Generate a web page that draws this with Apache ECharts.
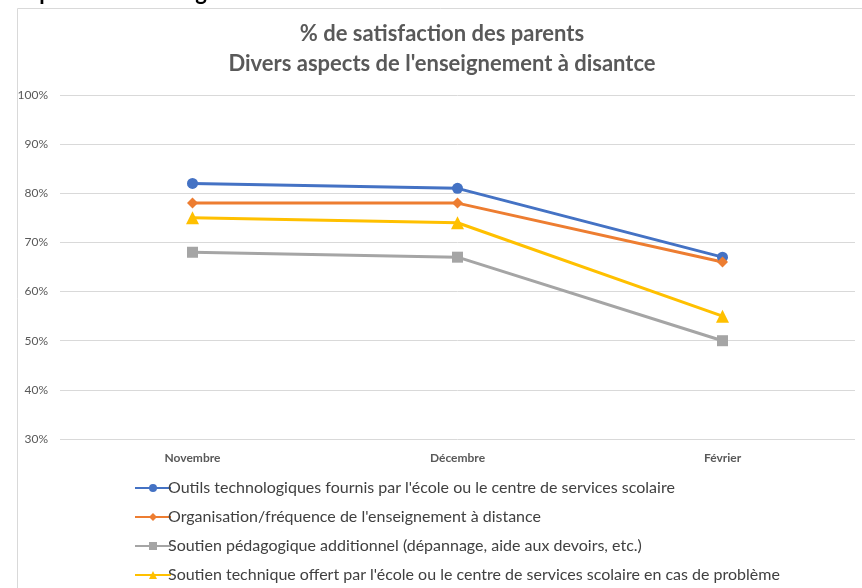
<!DOCTYPE html>
<html><head><meta charset="utf-8">
<script src="https://cdn.jsdelivr.net/npm/echarts@6/dist/echarts.min.js"></script>
<style>html,body{margin:0;padding:0;background:#fff}#c{width:862px;height:588px}</style>
</head><body><div id="c"></div>
<script>
const categories = ['Novembre', 'Décembre', 'Février'];
const outils = [82, 81, 67];
const organisation = [78, 78, 66];
const pedagogique = [68, 67, 50];
const technique = [75, 74, 55];
const seriesNames = [
  "Outils technologiques fournis par l'école ou le centre de services scolaire",
  "Organisation/fréquence de l'enseignement à distance",
  "Soutien pédagogique additionnel (dépannage, aide aux devoirs, etc.)",
  "Soutien technique offert par l'école ou le centre de services scolaire en cas de problème"
];
const colors = ['#4472C4', '#ED7D31', '#A5A5A5', '#FFC000'];
const symbols = ['circle', 'diamond', 'rect', 'triangle'];
const values = [outils, organisation, pedagogique, technique];
const font = 'Lato, "Open Sans", sans-serif';

const chart = echarts.init(document.getElementById('c'));
chart.setOption({
  animation: false,
  color: colors,
  title: {
    text: '% de satisfaction des parents\nDivers aspects de l\'enseignement à disantce',
    left: 437, textAlign: 'center', top: 14,
    textStyle: { fontFamily: font, fontSize: 22, fontWeight: 'bold', color: '#595959', lineHeight: 30 }
  },
  graphic: [
    { type: 'rect', shape: { x: 17.5, y: 8.5, width: 900, height: 700 }, style: { fill: 'none', stroke: '#d9d9d9', lineWidth: 1 }, z: -1 },
    { type: 'text', x: 0, y: -18, style: { text: "des parents à l'enseignement à distance", font: 'bold 22px ' + font, fill: '#000' } }
  ],
  grid: { left: 60, right: 7, top: 95, bottom: 149 },
  xAxis: {
    type: 'category', data: categories, boundaryGap: true,
    axisLine: { show: false }, axisTick: { show: false },
    axisLabel: { margin: 13, fontFamily: font, fontSize: 12, fontWeight: 'bold', color: '#595959' }
  },
  yAxis: {
    type: 'value', min: 30, max: 100, interval: 10,
    axisLine: { show: false }, axisTick: { show: false },
    axisLabel: { formatter: '{value}%', margin: 12, fontFamily: font, fontSize: 12, color: '#595959' },
    splitLine: { lineStyle: { color: '#d9d9d9', width: 1 } }
  },
  legend: {
    orient: 'vertical', left: 129, top: 473, height: 130, itemGap: 9,
    itemWidth: 36, itemHeight: 10,
    textStyle: { fontFamily: font, fontSize: 16, color: '#404040', padding: [0, 0, 0, -8], lineHeight: 20 },
    data: seriesNames
  },
  series: values.map((v, i) => ({
    name: seriesNames[i], type: 'line', data: v,
    symbol: symbols[i], symbolSize: i === 3 ? 13 : 11, showAllSymbol: true,
    lineStyle: { width: 3, color: colors[i] },
    itemStyle: { color: colors[i] }
  }))
});
</script></body></html>
